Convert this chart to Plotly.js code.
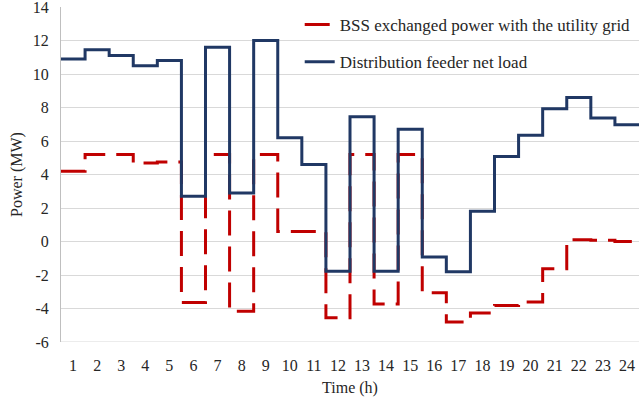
<!DOCTYPE html>
<html>
<head>
<meta charset="utf-8">
<script src="https://cdn.plot.ly/plotly-3.0.1.min.js"></script>
<style>html,body{margin:0;padding:0;background:#fff}#chart{width:639px;height:402px}</style>
</head>
<body>
<div id="chart"></div>
<script>
const hours = [1,2,3,4,5,6,7,8,9,10,11,12,13,14,15,16,17,18,19,20,21,22,23,24];
const bssPower = [4.2,5.2,5.2,4.68,4.75,-3.64,5.2,-4.17,5.2,0.6,0.6,-4.55,5.2,-3.73,5.2,-3.06,-4.8,-4.27,-3.82,-3.61,-1.62,0.1,0.07,0.0];
const feederLoad = [10.9,11.45,11.1,10.5,10.8,2.7,11.6,2.9,12.0,6.2,4.6,-1.78,7.45,-1.78,6.7,-0.93,-1.8,1.8,5.08,6.34,7.93,8.6,7.37,6.97];
const seriesNames = ["BSS exchanged power with the utility grid","Distribution feeder net load"];
const yTicks = [-6,-4,-2,0,2,4,6,8,10,12,14];

// step edges: each hour occupies [h-0.5, h+0.5]
function stepX(arr){ const x = hours.map(h => h - 0.5); x.push(hours[hours.length-1] + 0.5); return x; }
function stepY(arr){ const y = arr.slice(); y.push(arr[arr.length-1]); return y; }

const traces = [
  {x: stepX(bssPower), y: stepY(bssPower), name: seriesNames[0], mode: 'lines',
   line: {shape: 'hv', color: '#C00000', width: 3, dash: '25px,11px'}, legendgroup: 'a'},
  {x: stepX(feederLoad), y: stepY(feederLoad), name: seriesNames[1], mode: 'lines',
   line: {shape: 'hv', color: '#203864', width: 3}, legendgroup: 'b'}
];

const fam = '"Liberation Serif", "Times New Roman", serif';

const layout = {
  width: 639, height: 402,
  margin: {l: 61, r: 0, t: 7, b: 60},
  paper_bgcolor: '#fff', plot_bgcolor: '#fff',
  font: {family: fam, color: '#262626', size: 16},
  showlegend: true,
  legend: {x: 0.413, y: 1.0, xanchor: 'left', yanchor: 'top', bgcolor: 'rgba(0,0,0,0)',
           font: {family: fam, size: 17, color: '#262626'}, traceorder: 'grouped', tracegroupgap: 12,
           itemwidth: 30},
  xaxis: {
    range: [0.5, 24.5], tickvals: hours, ticktext: hours.map(String),
    showgrid: false, zeroline: false, showline: false,
    ticks: 'outside', ticklen: 9, tickcolor: 'rgba(0,0,0,0)',
    tickfont: {family: fam, size: 16},
    title: {text: 'Time (h)', font: {family: fam, size: 16}, standoff: 8}
  },
  yaxis: {
    range: [-6, 14], tickvals: yTicks, ticktext: yTicks.map(String),
    ticklabeloverflow: 'allow',
    showgrid: true, gridcolor: '#D9D9D9', gridwidth: 1,
    zeroline: false, showline: true, linecolor: '#BFBFBF', linewidth: 1,
    ticks: 'outside', ticklen: 8, tickcolor: 'rgba(0,0,0,0)',
    tickfont: {family: fam, size: 16},
    title: {text: 'Power (MW)', font: {family: fam, size: 16}, standoff: 6}
  },
  shapes: [
    {type: 'line', xref: 'paper', yref: 'y', x0: 0, x1: 1, y0: -6, y1: -6, line: {color: '#D9D9D9', width: 1}}
  ]
};

Plotly.newPlot('chart', traces, layout, {displayModeBar: false, staticPlot: true});
</script>
</body>
</html>
